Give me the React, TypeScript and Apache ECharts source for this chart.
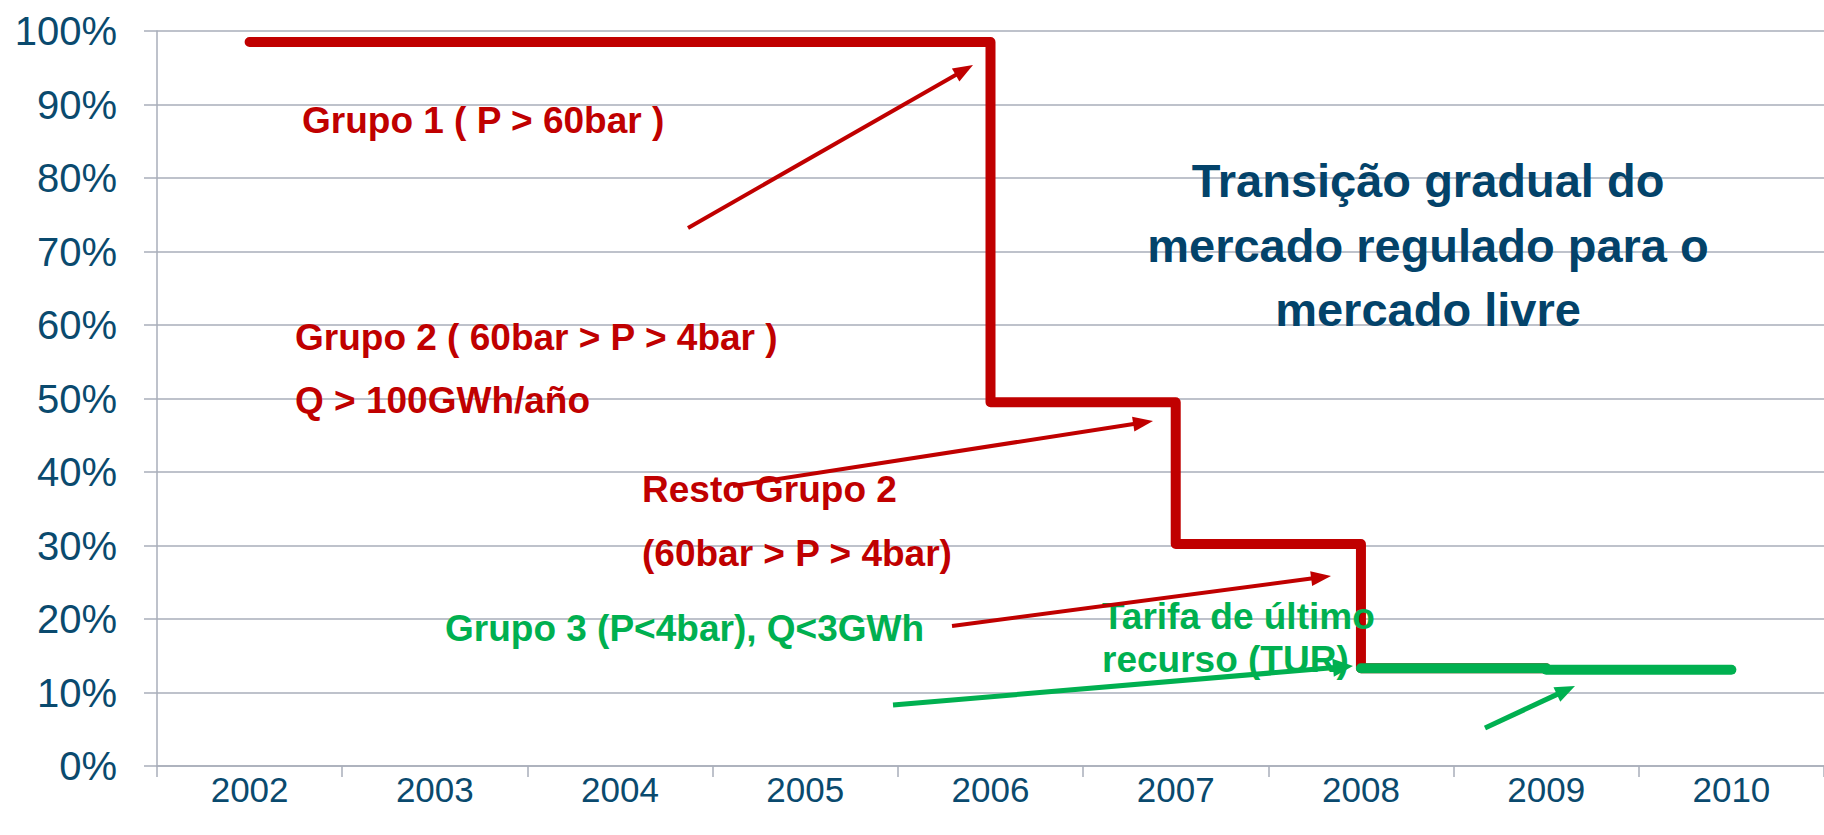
import React, { useEffect, useRef } from "react";
import * as echarts from "echarts";

const years = ["2002", "2003", "2004", "2005", "2006", "2007", "2008", "2009", "2010"];
const regulatedShare = [98.5, 98.5, 98.5, 98.5, 49.5, 30.2, 13.3, null, null];
const turShareA = [null, null, null, null, null, null, 13.3, 13.3, null];
const turShareB = [null, null, null, null, null, null, null, 13.1, 13.1];
const yTicks = { min: 0, max: 100, interval: 10 };

const RED = "#C00000";
const GREEN = "#00B050";
const NAVY = "#0A4A6E";
const TITLE = "#03436A";
const GRID = "#A9AEBA";
const FONT = "'Liberation Sans', Arial, sans-serif";

function arrow(x1: number, y1: number, x2: number, y2: number, color: string, w: number, headLen: number, headW: number) {
  const dx = x2 - x1;
  const dy = y2 - y1;
  const len = Math.sqrt(dx * dx + dy * dy);
  const ux = dx / len;
  const uy = dy / len;
  const bx = x2 - ux * headLen;
  const by = y2 - uy * headLen;
  const px = -uy;
  const py = ux;
  return [
    {
      type: "line",
      shape: { x1, y1, x2: bx + ux * 2, y2: by + uy * 2 },
      style: { stroke: color, lineWidth: w },
      z: 100,
    },
    {
      type: "polygon",
      shape: {
        points: [
          [x2, y2],
          [bx + (px * headW) / 2, by + (py * headW) / 2],
          [bx - (px * headW) / 2, by - (py * headW) / 2],
        ],
      },
      style: { fill: color },
      z: 100,
    },
  ];
}

function label(text: string, x: number, y: number, color: string, size: number, align = "left") {
  return {
    type: "text",
    x,
    y,
    z: 90,
    style: {
      text,
      fill: color,
      font: `bold ${size}px ${FONT}`,
      textAlign: align,
      textVerticalAlign: "middle",
    },
  };
}

export default function App() {
  const ref = useRef<HTMLDivElement>(null);

  useEffect(() => {
    if (!ref.current) return;
    const chart = echarts.init(ref.current, undefined, { renderer: "svg" });
    const AS = 37;
    const TS = 47;
    const option: any = {
      animation: false,
      backgroundColor: "#ffffff",
      grid: { left: 157, top: 31, width: 1696, height: 735 },
      xAxis: {
        type: "category",
        data: years,
        boundaryGap: true,
        axisLine: { show: true, lineStyle: { color: GRID, width: 1.5 } },
        axisTick: { show: true, length: 11, lineStyle: { color: GRID, width: 1.5 } },
        axisLabel: { color: NAVY, fontSize: 35, fontFamily: FONT, margin: 6 },
        splitLine: { show: false },
      },
      yAxis: {
        type: "value",
        min: yTicks.min,
        max: yTicks.max,
        interval: yTicks.interval,
        axisLine: { show: true, lineStyle: { color: GRID, width: 1.5 } },
        axisTick: { show: true, length: 13, lineStyle: { color: GRID, width: 1.5 } },
        axisLabel: { color: NAVY, fontSize: 40, fontFamily: FONT, margin: 40, formatter: "{value}%" },
        splitLine: { show: true, lineStyle: { color: GRID, width: 1.5 } },
      },
      series: [
        {
          type: "line",
          data: regulatedShare,
          step: "end",
          symbol: "none",
          lineStyle: { color: RED, width: 10, cap: "round", join: "round" },
          z: 3,
        },
        {
          type: "line",
          data: turShareA,
          symbol: "none",
          lineStyle: { color: GREEN, width: 10, cap: "round", join: "round" },
          z: 4,
        },
        {
          type: "line",
          data: turShareB,
          symbol: "none",
          lineStyle: { color: GREEN, width: 10, cap: "round", join: "round" },
          z: 4,
        },
      ],
      graphic: [
        label("Grupo 1 ( P > 60bar )", 302, 120, RED, AS),
        label("Grupo 2 ( 60bar > P > 4bar )", 295, 337, RED, AS),
        label("Q > 100GWh/año", 295, 400, RED, AS),
        label("Resto Grupo 2", 642, 489, RED, AS),
        label("(60bar > P > 4bar)", 642, 553, RED, AS),
        label("Grupo 3 (P<4bar), Q<3GWh", 445, 628, GREEN, AS),
        label("Tarifa de último", 1102, 616, GREEN, AS),
        label("recurso (TUR)", 1102, 659, GREEN, AS),
        label("Transição gradual do", 1428, 180, TITLE, TS, "center"),
        label("mercado regulado para o", 1428, 245, TITLE, TS, "center"),
        label("mercado livre", 1428, 309, TITLE, TS, "center"),
        ...arrow(688, 228, 973, 65, RED, 4, 20, 15),
        ...arrow(733, 486, 1153, 421, RED, 4, 20, 15),
        ...arrow(952, 626, 1331, 576, RED, 4, 20, 15),
        ...arrow(893, 705, 1353, 666, GREEN, 5, 20, 18),
        ...arrow(1485, 728, 1575, 686, GREEN, 5, 20, 16),
      ],
    };
    chart.setOption(option);
    return () => chart.dispose();
  }, []);

  return (
    <div
      ref={ref}
      style={{ position: "absolute", left: 0, top: 0, width: 1824, height: 835, background: "#fff" }}
    />
  );
}
